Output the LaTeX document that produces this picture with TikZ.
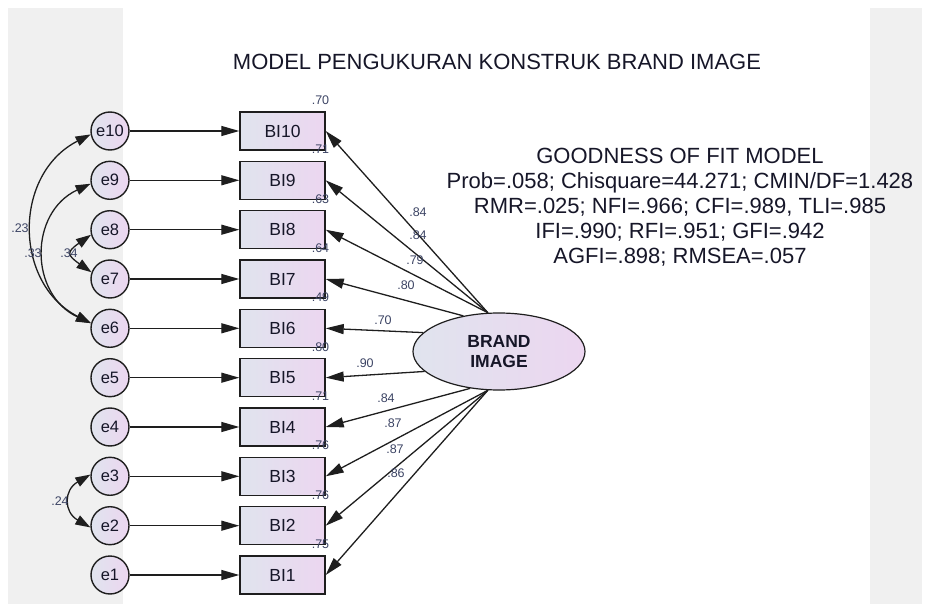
\documentclass[tikz,border=0pt]{standalone}
\usepackage{fontspec}
\setmainfont{Liberation Sans}
\usetikzlibrary{arrows.meta,shapes.geometric}
\definecolor{panel}{RGB}{240,240,240}
\definecolor{fillL}{RGB}{224,228,238}
\definecolor{fillR}{RGB}{236,214,240}
\definecolor{numcol}{RGB}{60,68,100}
\definecolor{ink}{RGB}{30,30,30}
\definecolor{navy}{RGB}{22,22,40}
\begin{document}
\begin{tikzpicture}[x=1pt,y=1pt,
  obs/.style={draw=ink, line width=1.4pt, left color=fillL, right color=fillR,
    minimum width=85pt, minimum height=38pt, inner sep=0pt, text=navy,
    font=\fontsize{17.5}{19}\selectfont},
  err/.style={circle, draw=ink, line width=1.4pt, left color=fillL, right color=fillR,
    minimum size=38pt, inner sep=0pt, text=navy, font=\fontsize{16.5}{18}\selectfont},
  lat/.style={ellipse, draw=ink, line width=1.2pt, left color=fillL, right color=fillR,
    minimum width=172pt, minimum height=77pt, inner sep=0pt, align=center, text=navy,
    font=\bfseries\fontsize{17.5}{20}\selectfont},
  regarrow/.style={draw=ink, line width=1.3pt, -{Triangle[length=18pt,width=10pt]}},
  cov/.style={draw=ink, line width=1.3pt, {Triangle[length=15pt,width=10pt]}-{Triangle[length=15pt,width=10pt]}},
  num/.style={text=numcol, font=\fontsize{12.5}{13}\selectfont, inner sep=0pt},
  bigtext/.style={text=navy, font=\fontsize{22}{24.9}\selectfont, inner sep=0pt, align=center},
]
\path[use as bounding box] (0,0) rectangle (927,-604);
\fill[panel] (8,-8) rectangle (123,-604);
\fill[panel] (870,-8) rectangle (922,-604);

\node[bigtext] (title) at (497,-61.5) {MODEL PENGUKURAN KONSTRUK BRAND IMAGE};
\node[bigtext] (gof) at (680,-207) {GOODNESS OF FIT MODEL\\
Prob=.058; Chisquare=44.271; CMIN/DF=1.428\\
RMR=.025; NFI=.966; CFI=.989, TLI=.985\\
IFI=.990; RFI=.951; GFI=.942\\
AGFI=.898; RMSEA=.057};

\foreach \i/\y in {10/131,9/180.3,8/229.7,7/279,6/328.3,5/377.7,4/427,3/476.3,2/525.7,1/575}{
  \node[err] (e\i) at (110,-\y) {e\i};
  \node[obs] (b\i) at (282.5,-\y) {BI\i};
  \draw[regarrow] (e\i) -- (b\i);
}

\node[lat] (bi) at (499,-351.5) {BRAND\\IMAGE};

\draw[regarrow] (bi.106) -- (b10.east);
\draw[regarrow] (bi.106) -- (b9.east);
\draw[regarrow] (bi.106) -- (b8.east);
\draw[regarrow] (bi.135) -- (b7.east);
\draw[regarrow] (bi.166) -- (b6.east);
\draw[regarrow] (bi.195) -- (b5.east);
\draw[regarrow] (bi.232) -- (b4.east);
\draw[regarrow] (bi.254) -- (b3.east);
\draw[regarrow] (bi.254) -- (b2.east);
\draw[regarrow] (bi.254) -- (b1.east);

\draw[cov] (e10.190) to[out=207,in=153,looseness=1.18] (e6.165);
\draw[cov] (e9.190) to[out=205,in=155,looseness=1.25] (e6.165);
\draw[cov] (e8.195) to[out=215,in=145,looseness=2.05] (e7.160);
\draw[cov] (e3.175) to[out=210,in=150,looseness=1.5] (e2.185);

% loadings
\node[num] (l10) at (418,-212) {.84};
\node[num] (l9) at (418,-235) {.84};
\node[num] (l8) at (415,-260) {.79};
\node[num] (l7) at (406,-285) {.80};
\node[num] (l6) at (383,-320) {.70};
\node[num] (l5) at (365,-363.5) {.90};
\node[num] (l4) at (386,-398) {.84};
\node[num] (l3) at (393,-423.5) {.87};
\node[num] (l2) at (395,-449) {.87};
\node[num] (l1) at (396,-473.5) {.86};

% squared multiple correlations
\foreach \i/\y/\v in {10/131/.70,9/180.3/.71,8/229.7/.63,7/279/.64,6/328.3/.49,5/377.7/.80,4/427/.71,3/476.3/.76,2/525.7/.76,1/575/.75}{
  \node[num] (r\i) at (320.5,-\y+31) {\v};
}

% covariances
\node[num] (c1) at (20,-228) {.23};
\node[num] (c2) at (33,-253.5) {.33};
\node[num] (c3) at (69,-253.5) {.34};
\node[num] (c4) at (60,-501) {.24};
\end{tikzpicture}
\end{document}
